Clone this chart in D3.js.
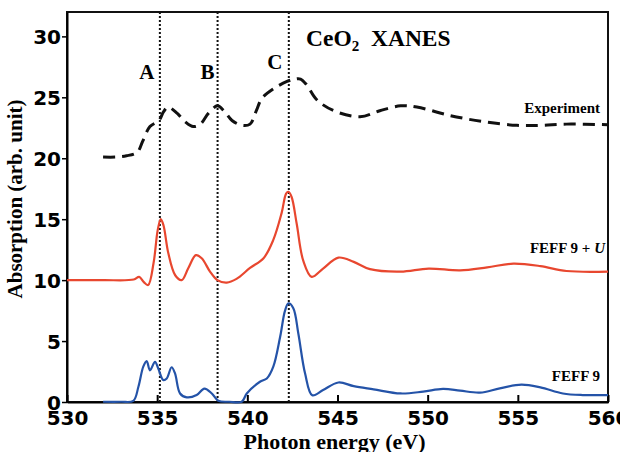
<!DOCTYPE html>
<html>
<head>
    <meta charset="utf-8">
    <title>CeO2 XANES</title>
    <script src="https://cdnjs.cloudflare.com/ajax/libs/d3/7.8.5/d3.min.js"></script>
    <style>
        body { margin: 0; background: white; }
        .serif { font-family: "Liberation Serif", "DejaVu Serif", serif; font-weight: bold; }
        .tick text { font-family: "DejaVu Sans", sans-serif; font-weight: bold; font-size: 20px; }
    </style>
</head>
<body>
    <svg id="chart" width="620" height="452"></svg>

    <script>
        // Datos (energía en eV, absorción en u.a.)
        const expEnergy = [532.0, 532.7, 533.3, 533.9, 534.2, 534.6, 535.1, 535.35, 535.6, 536.1, 536.55, 537.0, 537.4, 537.85, 538.35, 538.7, 539.15, 539.7, 540.15, 540.5, 540.8, 541.45, 542.2, 542.65, 542.95, 543.3, 543.85, 544.8, 546.25, 547.35, 548.5, 549.4, 551.25, 553.1, 554.95, 556.25, 557.7, 560.0];
        const expAbs = [20.1, 20.1, 20.2, 20.5, 21.4, 22.6, 23.1, 23.8, 24.2, 23.7, 23.0, 22.6, 22.8, 23.7, 24.3, 23.9, 23.1, 22.7, 22.8, 23.9, 24.9, 25.7, 26.3, 26.5, 26.5, 26.0, 24.8, 23.9, 23.4, 23.9, 24.3, 24.2, 23.5, 23.0, 22.7, 22.7, 22.8, 22.75];

        const feffUEnergy = [530.0, 532.0, 533.7, 534.0, 534.25, 534.5, 534.8, 535.03, 535.2, 535.35, 535.62, 536.0, 536.36, 536.73, 537.15, 537.47, 537.93, 538.34, 538.86, 539.4, 540.15, 540.9, 541.44, 541.9, 542.15, 542.28, 542.46, 542.74, 543.1, 543.57, 544.2, 545.05, 545.9, 546.8, 548.5, 550.05, 551.8, 553.3, 554.75, 556.25, 557.7, 560.0];
        const feffUAbs = [10.0, 10.0, 10.05, 10.27, 9.86, 9.6, 11.4, 14.1, 15.0, 14.5, 12.2, 10.4, 10.0, 11.0, 12.05, 11.8, 10.7, 10.0, 9.8, 10.1, 11.0, 11.8, 13.3, 15.5, 17.1, 17.25, 16.8, 14.6, 11.6, 10.27, 10.95, 11.85, 11.5, 10.9, 10.7, 10.95, 10.8, 11.05, 11.35, 11.15, 10.75, 10.7];

        const feffEnergy = [532.0, 533.0, 533.68, 533.96, 534.23, 534.42, 534.6, 534.88, 535.06, 535.34, 535.53, 535.8, 535.99, 536.27, 536.64, 537.19, 537.62, 538.03, 538.39, 539.0, 539.69, 539.97, 540.7, 541.08, 541.44, 541.82, 542.09, 542.28, 542.55, 542.83, 543.2, 543.6, 544.2, 545.05, 545.9, 547.0, 548.5, 549.75, 550.85, 551.8, 552.9, 554.0, 555.2, 556.25, 557.5, 558.6, 560.0];
        const feffAbs = [0.02, 0.02, 0.1, 1.25, 2.9, 3.35, 2.6, 3.3, 2.75, 1.8, 1.93, 2.85, 2.35, 0.7, 0.38, 0.57, 1.1, 0.7, 0.1, 0.02, 0.02, 0.7, 1.66, 1.93, 2.9, 5.35, 7.5, 8.1, 7.7, 5.6, 2.35, 0.55, 0.98, 1.6, 1.3, 1.04, 0.7, 0.85, 1.07, 0.93, 0.77, 1.12, 1.42, 1.2, 0.7, 0.57, 0.57];

        const markerEnergies = [535.15, 538.35, 542.3];
        const markerLabels = ["A", "B", "C"];
        const xTicks = [530, 535, 540, 545, 550, 555, 560];
        const yTicks = [0, 5, 10, 15, 20, 25, 30];

        const svg = d3.select("#chart");
        const margin = {top: 12, right: 12, bottom: 50, left: 67};
        const width = 620 - margin.left - margin.right;
        const height = 452 - margin.top - margin.bottom;

        const g = svg.append("g")
            .attr("transform", `translate(${margin.left},${margin.top})`);

        const x = d3.scaleLinear().domain([530, 560]).range([0, width]);
        const y = d3.scaleLinear().domain([0, 32]).range([height, 0]);

        // Marco
        g.append("rect")
            .attr("width", width)
            .attr("height", height)
            .attr("fill", "none")
            .attr("stroke", "#111")
            .attr("stroke-width", 2);

        // Ejes
        const xAxis = g.append("g")
            .attr("transform", `translate(0,${height})`)
            .call(d3.axisBottom(x).tickValues(xTicks).tickSizeInner(-7).tickSizeOuter(0).tickPadding(9));
        xAxis.select(".domain").attr("stroke-width", 2);
        xAxis.selectAll(".tick line").attr("stroke-width", 2);

        const yAxis = g.append("g")
            .call(d3.axisLeft(y).tickValues(yTicks).tickSizeInner(5).tickSizeOuter(0).tickPadding(1));
        yAxis.select(".domain").attr("stroke-width", 2);
        yAxis.selectAll(".tick line").attr("stroke-width", 1.5);
        yAxis.selectAll(".tick text").attr("dy", "0.36em");

        // Líneas punteadas A, B, C
        g.selectAll(".marker")
            .data(markerEnergies)
            .enter().append("line")
            .attr("x1", d => x(d))
            .attr("x2", d => x(d))
            .attr("y1", 0)
            .attr("y2", height)
            .attr("stroke", "#111")
            .attr("stroke-width", 2)
            .attr("stroke-dasharray", "2,2");

        const markerOffsets = [-13, -10, -14];
        const markerY = [72, 72, 62];
        g.selectAll(".marker-label")
            .data(markerLabels)
            .enter().append("text")
            .attr("class", "serif")
            .attr("x", (d, i) => x(markerEnergies[i]) + markerOffsets[i])
            .attr("y", (d, i) => markerY[i] - margin.top + 7)
            .attr("text-anchor", "middle")
            .attr("font-size", 21)
            .text(d => d);

        // Curvas
        const line = d3.line()
            .x(d => x(d[0]))
            .y(d => y(d[1]))
            .curve(d3.curveCatmullRom.alpha(0.5));

        const series = [
            {e: feffEnergy, a: feffAbs, color: "#2453a8", dash: null, w: 2.2},
            {e: feffUEnergy, a: feffUAbs, color: "#e8472f", dash: null, w: 2.2},
            {e: expEnergy, a: expAbs, color: "#111", dash: "12,7", w: 3}
        ];

        series.forEach(s => {
            g.append("path")
                .datum(d3.zip(s.e, s.a))
                .attr("fill", "none")
                .attr("stroke", s.color)
                .attr("stroke-width", s.w)
                .attr("stroke-dasharray", s.dash)
                .attr("d", line);
        });

        // Etiquetas de las series
        g.append("text").attr("class", "serif")
            .attr("x", 600 - margin.left).attr("y", 113 - margin.top)
            .attr("text-anchor", "end").attr("font-size", 15)
            .text("Experiment");

        const feffULabel = g.append("text").attr("class", "serif")
            .attr("x", 605 - margin.left).attr("y", 253 - margin.top)
            .attr("text-anchor", "end").attr("font-size", 15);
        feffULabel.append("tspan").text("FEFF 9 + ");
        feffULabel.append("tspan").attr("font-style", "italic").text("U");

        g.append("text").attr("class", "serif")
            .attr("x", 600 - margin.left).attr("y", 381 - margin.top)
            .attr("text-anchor", "end").attr("font-size", 15)
            .text("FEFF 9");

        // Título
        const title = g.append("text").attr("class", "serif")
            .attr("x", 306 - margin.left).attr("y", 46 - margin.top)
            .attr("font-size", 23.5);
        title.append("tspan").text("CeO");
        title.append("tspan").attr("font-size", 15).attr("dy", 5).text("2");
        title.append("tspan").attr("dy", -5).text("\u00a0 XANES");

        // Títulos de ejes
        g.append("text").attr("class", "serif")
            .attr("x", width / 2 - 3).attr("y", height + 47)
            .attr("text-anchor", "middle").attr("font-size", 22)
            .text("Photon energy (eV)");

        g.append("text").attr("class", "serif")
            .attr("transform", "rotate(-90)")
            .attr("x", -(199 - margin.top)).attr("y", -45)
            .attr("text-anchor", "middle").attr("font-size", 21)
            .text("Absorption (arb. unit)");
    </script>
</body>
</html>
